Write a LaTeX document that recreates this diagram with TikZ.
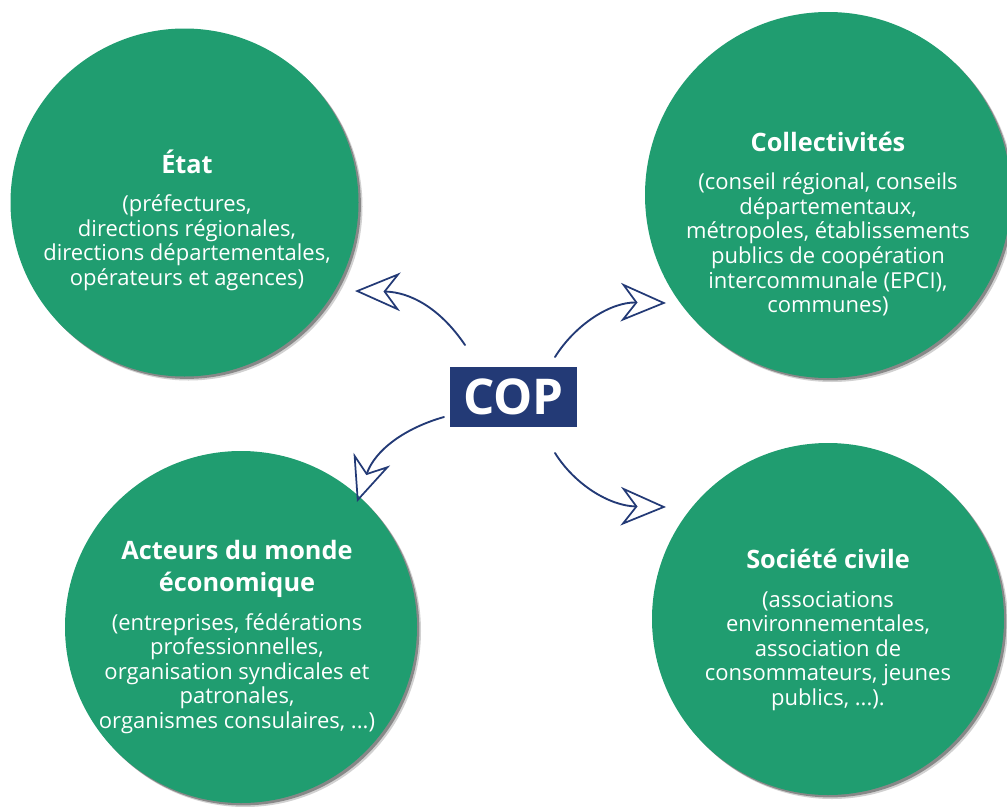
\documentclass[tikz,border=0pt]{standalone}
\usepackage{fontspec}
\setmainfont{Open Sans}
\usetikzlibrary{arrows.meta,shadows}
\definecolor{copgreen}{RGB}{32,157,112}
\definecolor{copblue}{RGB}{35,58,118}
\newcommand{\grouptitle}[1]{{\fontsize{19}{24}\selectfont\bfseries #1}}

\begin{document}
\begin{tikzpicture}[x=0.75pt,y=-0.75pt,
    group/.style={circle,fill=copgreen,inner sep=0pt,minimum size=#1,
      general shadow={shadow xshift=3pt,shadow yshift=-3pt,fill=black,opacity=.18},
      general shadow={shadow xshift=1.8pt,shadow yshift=-1.8pt,fill=black,opacity=.35}},
    grouptext/.style={text=white,align=center,inner sep=0pt,
      font=\fontsize{16.5}{18.4}\selectfont},
    link/.style={draw=copblue,line width=1.4pt,line cap=round,
      -{Stealth[open,length=34pt,width=29pt,inset=11pt,line width=1.3pt]}}]
  \useasboundingbox (0,0) rectangle (1007,807);
  \clip (0,0) rectangle (1007,807);
  % the four groups
  \node[group=261pt] (etat) at (184.5,202.5) {};
  \node[group=274.5pt] (coll) at (828,195) {};
  \node[group=264pt] (eco) at (241,627) {};
  \node[group=264pt] (civ) at (828,619) {};
  \node[grouptext] at (187,220) {\grouptitle{État}\\[10.5pt]
    (préfectures,\\directions régionales,\\directions départementales,\\opérateurs et agences)};
  \node[grouptext] at (828,224) {\grouptitle{Collectivités}\\[10.5pt]
    (conseil régional, conseils\\départementaux,\\métropoles, établissements\\publics de coopération\\intercommunale (EPCI),\\communes)};
  \node[grouptext] at (237,637) {\grouptitle{Acteurs du monde}\\[5.6pt]\grouptitle{économique}\\[10.5pt]
    (entreprises, fédérations\\professionnelles,\\organisation syndicales et\\patronales,\\organismes consulaires, ...)};
  \node[grouptext] at (828,630) {\grouptitle{Société civile}\\[10.5pt]
    (associations\\environnementales,\\association de\\consommateurs, jeunes\\publics, ...).};
  % centre
  \node[fill=copblue,text=white,font=\fontsize{37}{40}\selectfont\bfseries,
    minimum width=95pt,minimum height=45pt,inner sep=0pt] (cop) at (513.5,397) {COP};
  % arrow ends
  \coordinate (s1) at (465,345);  \coordinate (t1) at (355,291);
  \coordinate (s2) at (555,357);  \coordinate (t2) at (666,303);
  \coordinate (s3) at (444,417);  \coordinate (t3) at (357,502);
  \coordinate (s4) at (555,453);  \coordinate (t4) at (666,507);
  \draw[link] (s1) .. controls (440,308) and (410,292) .. (t1);
  \draw[link] (s2) .. controls (575,325) and (610,302) .. (t2);
  \draw[link] (s3) .. controls (405,428) and (375,450) .. (t3);
  \draw[link] (s4) .. controls (575,485) and (610,506) .. (t4);
\end{tikzpicture}
\end{document}
